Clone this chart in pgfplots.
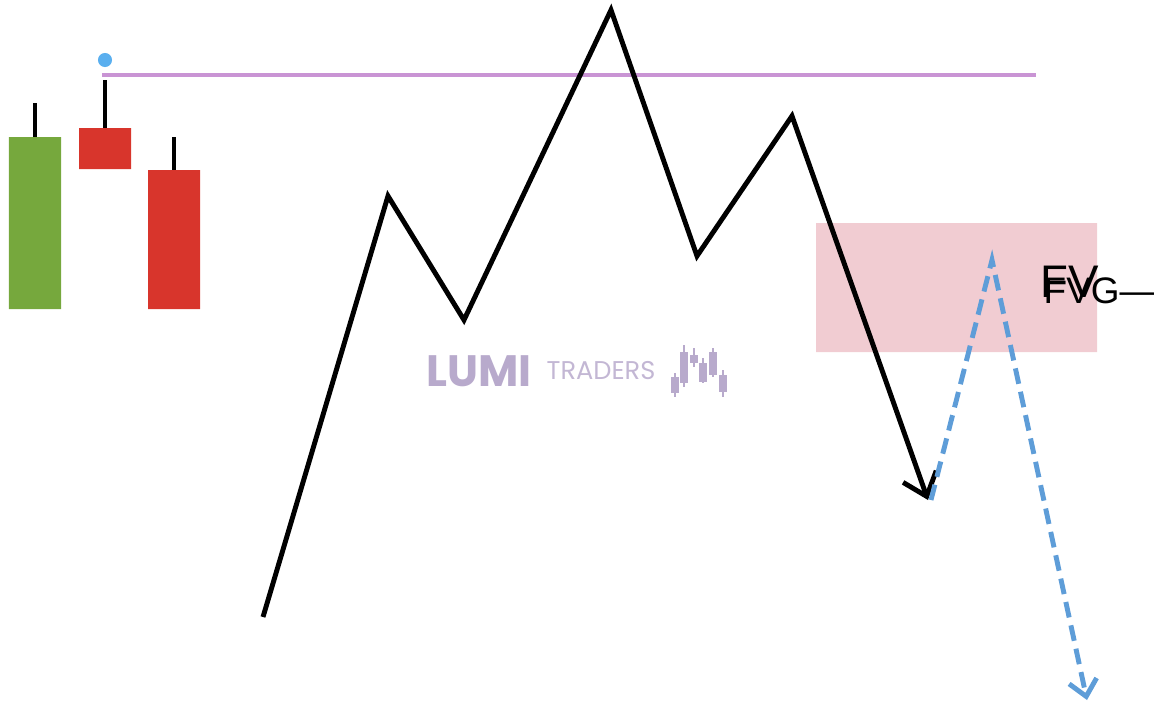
\documentclass[border=0pt]{standalone}
\usepackage{pgfplots}
\pgfplotsset{compat=1.18}
\usepackage{fontspec}
\setmainfont{Liberation Sans}
\newfontfamily\lumifont{Poppins}
\usetikzlibrary{arrows.meta}
\definecolor{cgreen}{HTML}{76A83D}
\definecolor{cred}{HTML}{D8352C}
\definecolor{cpurple}{HTML}{C994D4}
\definecolor{cpink}{HTML}{F1CCD2}
\definecolor{cblue}{HTML}{5E9DD8}
\definecolor{cdot}{HTML}{5AAFEF}
\definecolor{cmark}{HTML}{B8AACC}
\begin{document}
\begin{tikzpicture}
\begin{axis}[
  name=ax,
  scale only axis,
  width=11.54cm, height=7.06cm,
  xmin=0, xmax=1154, ymin=0, ymax=706,
  y dir=reverse,
  axis lines=none,
  clip=false,
]
% fvg zone
\addplot[fill=cpink, draw=none] coordinates {(816,223) (1097,223) (1097,352) (816,352) (816,223)};
% candles: wicks
\addplot[black, line width=1.4pt] coordinates {(35,103) (35,137)};
\addplot[black, line width=1.4pt] coordinates {(105,80) (105,128)};
\addplot[black, line width=1.4pt] coordinates {(174,137) (174,170)};
% candles: bodies
\addplot[fill=cgreen, draw=none] coordinates {(9,137) (61,137) (61,309) (9,309) (9,137)};
\addplot[fill=cred, draw=none] coordinates {(79,128) (131,128) (131,169) (79,169) (79,128)};
\addplot[fill=cred, draw=none] coordinates {(148,170) (200,170) (200,309) (148,309) (148,170)};
% high marker and level
\addplot[only marks, mark=*, mark size=1.8pt, cdot] coordinates {(105,60)};
\addplot[cpurple, line width=1.4pt] coordinates {(102,75) (1036,75)};
% watermark
\node[text=cmark, font=\lumifont\fontsize{12.5}{14}\selectfont\bfseries] at (axis cs:479,371) {LUMI};
\node[text=cmark!85, font=\lumifont\fontsize{7.3}{8}\selectfont] at (axis cs:601,371) {TRADERS};
\addplot[cmark, line width=0.5pt] coordinates {(675,373) (675,397)};
\addplot[cmark, line width=0.5pt] coordinates {(684,345) (684,387)};
\addplot[cmark, line width=0.5pt] coordinates {(694,348) (694,367)};
\addplot[cmark, line width=0.5pt] coordinates {(703,358) (703,383)};
\addplot[cmark, line width=0.5pt] coordinates {(713,348) (713,377)};
\addplot[cmark, line width=0.5pt] coordinates {(723,370) (723,397)};
\addplot[cmark, line width=2.3pt] coordinates {(675,377) (675,393)};
\addplot[cmark, line width=2.3pt] coordinates {(684,352) (684,383)};
\addplot[cmark, line width=2.3pt] coordinates {(694,355) (694,363)};
\addplot[cmark, line width=2.3pt] coordinates {(703,363) (703,382)};
\addplot[cmark, line width=2.3pt] coordinates {(713,352) (713,375)};
\addplot[cmark, line width=2.3pt] coordinates {(723,375) (723,392)};
% price path
\addplot[black, line width=1.4pt, line join=miter, -{Straight Barb[length=6pt,width=10pt,line width=1.4pt]}]
  coordinates {(263,617) (388,196) (464,320) (611,10) (697,256) (792,116) (928,500)};
% projected path
\addplot[cblue, line width=1.4pt, dash pattern=on 4.5pt off 2.3pt, -{Straight Barb[length=4.5pt,width=8pt,line width=1.4pt]}]
  coordinates {(931,500) (992,260) (1087,700)};
% labels
\node[anchor=west, inner sep=0pt, font=\fontsize{13}{15}\selectfont] at (axis cs:1040,282) {FV};
\node[anchor=west, inner sep=0pt, font=\fontsize{10.5}{12}\selectfont] at (axis cs:1043,291) {FVG—};
\end{axis}
\pgfresetboundingbox
\path (ax.south west) rectangle (ax.north east);
\end{tikzpicture}
\end{document}
